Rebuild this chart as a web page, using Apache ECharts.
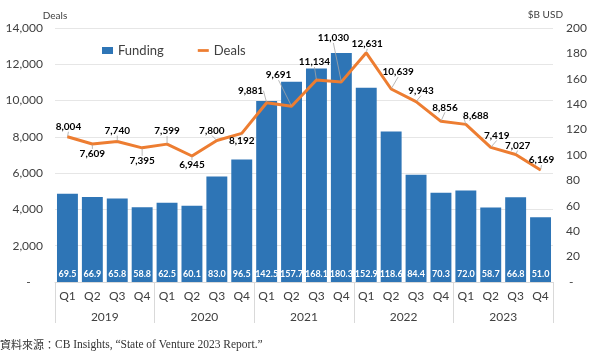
<!DOCTYPE html>
<html>
<head>
<meta charset="utf-8">
<script src="https://cdn.jsdelivr.net/npm/echarts@6/dist/echarts.min.js"></script>
<style>html,body{margin:0;padding:0;background:#fff;}#c{width:600px;height:361px;}</style>
</head>
<body>
<div id="c"></div>
<script>
var quarters = ['Q1','Q2','Q3','Q4','Q1','Q2','Q3','Q4','Q1','Q2','Q3','Q4','Q1','Q2','Q3','Q4','Q1','Q2','Q3','Q4'];
var years = ['2019','2020','2021','2022','2023'];
var funding = [69.5, 66.9, 65.8, 58.8, 62.5, 60.1, 83.0, 96.5, 142.5, 157.7, 168.1, 180.3, 152.9, 118.6, 84.4, 70.3, 72.0, 58.7, 66.8, 51.0];
var deals = [8004, 7609, 7740, 7395, 7599, 6945, 7800, 8192, 9881, 9691, 11134, 11030, 12631, 10639, 9943, 8856, 8688, 7419, 7027, 6169];
var leftTicks = [0, 2000, 4000, 6000, 8000, 10000, 12000, 14000];
var rightTicks = [0, 20, 40, 60, 80, 100, 120, 140, 160, 180, 200];

// label offsets (label placement only)
var labelShift = [[1,-10],[0,10],[0,-11],[0,13],[0,-13],[0,9],[-5,-10],[0,7],[-16,-12],[-13,-31],
                  [-2,-18],[-8,-44],[1,-9],[7,-17],[5,-11],[4,-14],[10,-9],[6,-12],[2,-9],[1,-10]];

var FONT = 'Lato, "Liberation Sans", sans-serif';
var chart = echarts.init(document.getElementById('c'), null, {renderer: 'canvas'});
function fmtThousands(v){ return v.toString().replace(/\B(?=(\d{3})+(?!\d))/g, ','); }

chart.setOption({
  animation: false,
  textStyle: {fontFamily: FONT},
  grid: {left: 55, right: 47, top: 28, bottom: 79},
  legend: {
    left: 97, top: 39, itemWidth: 11, itemHeight: 7, itemGap: 34,
    textStyle: {fontSize: 13, color: '#404040', fontFamily: FONT},
    data: [{name: 'Funding', icon: 'rect'}, {name: 'Deals', icon: 'path://M0,0 H12 V3 H0 Z'}]
  },
  xAxis: [{
    type: 'category', data: quarters, position: 'bottom',
    axisLine: {lineStyle: {color: '#d9d9d9'}},
    axisTick: {show: false},
    axisLabel: {margin: 8, fontSize: 12, color: '#404040', interval: 0}
  }, {
    type: 'category', data: years, position: 'bottom',
    axisLine: {show: false},
    axisTick: {show: true, length: 41, interval: 0, lineStyle: {color: '#d9d9d9'}},
    axisLabel: {margin: 29, fontSize: 12, color: '#404040', interval: 0},
    splitLine: {show: false}
  }],
  yAxis: [{
    type: 'value', min: leftTicks[0], max: leftTicks[leftTicks.length-1], interval: 2000,
    name: 'Deals', nameLocation: 'end', nameGap: 7,
    nameTextStyle: {fontSize: 10, color: '#404040', align: 'center'},
    axisLine: {show: false}, axisTick: {show: false},
    axisLabel: {margin: 12, fontSize: 12, color: '#404040',
      formatter: function(v){ return v === 0 ? '-    ' : fmtThousands(v); }},
    splitLine: {lineStyle: {color: '#e6e6e6'}}
  }, {
    type: 'value', min: rightTicks[0], max: rightTicks[rightTicks.length-1], interval: 20, position: 'right',
    name: '$B USD', nameLocation: 'end', nameGap: 8,
    nameTextStyle: {fontSize: 10, color: '#404040', align: 'right', padding: [0, -10, 0, 0]},
    axisLine: {show: false}, axisTick: {show: false},
    axisLabel: {margin: 13, fontSize: 12, color: '#404040',
      formatter: function(v){ return v === 0 ? ' -' : String(v); }},
    splitLine: {show: false}
  }],
  series: [{
    name: 'Funding', type: 'bar', xAxisIndex: 0, yAxisIndex: 1, data: funding,
    barCategoryGap: '16%',
    itemStyle: {color: '#2E75B6'},
    label: {show: true, position: 'insideBottom', distance: 3, color: '#fff', fontSize: 9, fontWeight: 'bold',
      formatter: function(p){ return p.value.toFixed(1); }}
  }, {
    name: 'Deals', type: 'line', xAxisIndex: 0, yAxisIndex: 0, data: deals,
    showSymbol: true, symbol: 'circle', symbolSize: 1,
    itemStyle: {color: '#ED7D31'},
    lineStyle: {color: '#ED7D31', width: 3},
    z: 5,
    label: {show: true, position: 'inside', color: '#000', fontSize: 10, fontWeight: 'bold',
      formatter: function(p){ return fmtThousands(p.value); }},
    labelLine: {show: true, lineStyle: {color: '#a6a6a6', width: 0.8}},
    labelLayout: function(p){ var s = labelShift[p.dataIndex]; return {dx: s[0], dy: s[1]}; }
  }],
  graphic: [{
    type: 'text', left: 0, top: 339,
    style: {
      text: '{a|資料來源：}{b|CB Insights, “State of Venture 2023 Report.”}',
      rich: {
        a: {fontFamily: '"Noto Sans CJK TC", sans-serif', fontSize: 11, fill: '#333'},
        b: {fontFamily: '"Liberation Serif", serif', fontSize: 11.5, fill: '#333'}
      }
    }
  }]
});
</script>
</body>
</html>
